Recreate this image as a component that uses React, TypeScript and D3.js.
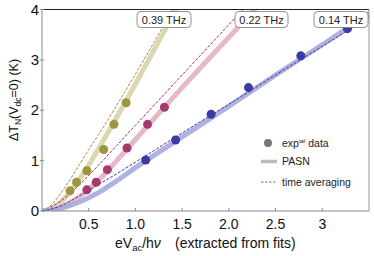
import React from 'react';
import * as d3 from 'd3';

// measured points (x = eVac/hν, y = ΔT_N in K)
const pts039 = [[0.30, 0.40], [0.37, 0.57], [0.48, 0.80], [0.66, 1.22], [0.77, 1.72], [0.90, 2.15]];
const pts022 = [[0.48, 0.42], [0.58, 0.57], [0.70, 0.82], [0.91, 1.25], [1.13, 1.72], [1.31, 2.06]];
const pts014 = [[1.11, 1.01], [1.43, 1.41], [1.81, 1.92], [2.21, 2.45], [2.77, 3.08], [3.27, 3.62]];

// PASN theory
const pasn039 = [[0, 0], [0.1, 0.04], [0.2, 0.17], [0.3, 0.38], [0.4, 0.63], [0.5, 0.91], [0.6, 1.22], [0.8, 1.86], [1.0, 2.52], [1.2, 3.2], [1.45, 4.05]];
const pasn022 = [[0, 0], [0.2, 0.08], [0.4, 0.28], [0.6, 0.6], [0.8, 1.0], [1.0, 1.42], [1.5, 2.45], [2.0, 3.45], [2.3, 4.05]];
const pasn014 = [[0, 0], [0.2, 0.05], [0.4, 0.18], [0.6, 0.36], [0.8, 0.6], [1.0, 0.86], [1.5, 1.47], [2.0, 2.08], [2.5, 2.7], [3.0, 3.3], [3.55, 3.98]];

// time averaging
const tavg039 = [[0, 0], [0.1, 0.12], [0.2, 0.35], [0.3, 0.62], [0.4, 0.92], [0.5, 1.22], [0.6, 1.5], [0.8, 2.1], [1.0, 2.72], [1.2, 3.35], [1.4, 4.0]];
const tavg022 = [[0, 0], [0.2, 0.2], [0.4, 0.52], [0.6, 0.9], [0.8, 1.3], [1.0, 1.7], [1.5, 2.7], [2.0, 3.7], [2.2, 4.1]];
const tavg014 = [[0, 0], [0.2, 0.1], [0.4, 0.3], [0.6, 0.52], [0.8, 0.74], [1.0, 0.97], [1.5, 1.55], [2.0, 2.12], [2.5, 2.7], [3.0, 3.27], [3.55, 3.9]];

const xTicks = [0.5, 1.0, 1.5, 2.0, 2.5, 3];
const xTickLabels = ['0.5', '1.0', '1.5', '2.0', '2.5', '3'];
const yTicks = [0, 1, 2, 3, 4];

const series = [
  { label: '0.39 THz', pts: pts039, pasn: pasn039, tavg: tavg039, dot: '#9d963f', thick: '#d9d3a9', dash: '#9d9040', box: [137, 191] },
  { label: '0.22 THz', pts: pts022, pasn: pasn022, tavg: tavg022, dot: '#a63a6f', thick: '#e4afc7', dash: '#a3306d', box: [235, 288] },
  { label: '0.14 THz', pts: pts014, pasn: pasn014, tavg: tavg014, dot: '#3b3ca3', thick: '#a6a8dc', dash: '#3a3ba8', box: [314, 368] },
];

const W = 374, H = 256;
const m = { left: 42, right: 5, top: 9.5, bottom: 45 };
const font = 'Liberation Sans, Arial, sans-serif';

export default function App() {
  const x = d3.scaleLinear().domain([0, 3.5]).range([m.left, W - m.right]);
  const y = d3.scaleLinear().domain([0, 4]).range([H - m.bottom, m.top]);
  const line = d3.line<number[]>().x(d => x(d[0])).y(d => y(d[1])).curve(d3.curveMonotoneX);
  const x0 = x(0), x1 = x(3.5), y0 = y(0), y1 = y(4);

  return (
    <svg width={W} height={H} style={{ position: 'absolute', left: 0, top: 0 }} fontFamily={font}>
      <defs>
        <clipPath id="plot"><rect x={x0} y={y1} width={x1 - x0} height={y0 - y1} /></clipPath>
      </defs>
      <rect width={W} height={H} fill="#fff" />
      <g clipPath="url(#plot)">
        {series.map(s => (
          <g key={s.label}>
            <path d={line(s.pasn) || ''} fill="none" stroke={s.thick} strokeWidth={5} strokeOpacity={0.9} />
            <path d={line(s.tavg) || ''} fill="none" stroke={s.dash} strokeWidth={1} strokeDasharray="3,1.5" />
          </g>
        ))}
        {series.map(s => s.pts.map((p, i) => (
          <circle key={s.label + i} cx={x(p[0])} cy={y(p[1])} r={4.5} fill={s.dot} />
        )))}
      </g>
      {/* frame */}
      <line x1={x0} x2={x1} y1={y1} y2={y1} stroke="#222" strokeWidth={1} />
      <line x1={x1} x2={x1} y1={y1} y2={y0} stroke="#999" strokeWidth={1} />
      <line x1={x0} x2={x1} y1={y0} y2={y0} stroke="#888" strokeWidth={1} />
      <line x1={x0} x2={x0} y1={y1} y2={y0} stroke="#888" strokeWidth={1} />
      {xTicks.map((t, i) => (
        <g key={t}>
          <line x1={x(t)} x2={x(t)} y1={y0} y2={y0 - 3} stroke="#888" />
          <text x={x(t)} y={y0 + 18} textAnchor="middle" fontSize={14} fill="#111">{xTickLabels[i]}</text>
        </g>
      ))}
      {yTicks.map(t => (
        <g key={t}>
          <line x1={x0 - 2} x2={x0 + 2} y1={y(t)} y2={y(t)} stroke="#888" />
          <text x={x0 - 3} y={y(t) + 5} textAnchor="end" fontSize={15} fill="#111">{t}</text>
        </g>
      ))}
      {/* frequency labels */}
      {series.map(s => (
        <g key={'lab' + s.label}>
          <rect x={s.box[0]} y={11.5} width={s.box[1] - s.box[0]} height={16} rx={4} fill="#fff" stroke="#777" strokeWidth={0.8} />
          <text x={(s.box[0] + s.box[1]) / 2} y={23.5} textAnchor="middle" fontSize={11} fill="#222">{s.label}</text>
        </g>
      ))}
      {/* legend */}
      <circle cx={268} cy={143} r={4} fill="#777" />
      <text x={282} y={146.5} fontSize={10.5} fill="#222">exp<tspan fontSize={6} dy={-4}>tal</tspan><tspan dy={4}> data</tspan></text>
      <line x1={261} x2={277} y1={161.5} y2={161.5} stroke="#bbb" strokeWidth={3.5} />
      <text x={282} y={165} fontSize={10.5} fill="#222">PASN</text>
      <line x1={261} x2={277} y1={182} y2={182} stroke="#555" strokeWidth={0.8} strokeDasharray="2.5,1.5" />
      <text x={282} y={185.5} fontSize={10.5} fill="#222">time averaging</text>
      {/* axis titles */}
      <text transform="translate(18,100) rotate(-90)" textAnchor="middle" fontSize={12.5} fill="#111">
        ΔT<tspan fontSize={8.5} dy={3}>N</tspan><tspan dy={-3}>(V</tspan><tspan fontSize={8.5} dy={3}>dc</tspan><tspan dy={-3}>=0) (K)</tspan>
      </text>
      <text x={115} y={248} fontSize={14} fill="#111">
        eV<tspan fontSize={9.5} dy={3}>ac</tspan><tspan dy={-3}>/h</tspan><tspan fontStyle="italic">ν</tspan>
      </text>
      <text x={175} y={248} fontSize={14} fill="#111">(extracted from fits)</text>
    </svg>
  );
}
